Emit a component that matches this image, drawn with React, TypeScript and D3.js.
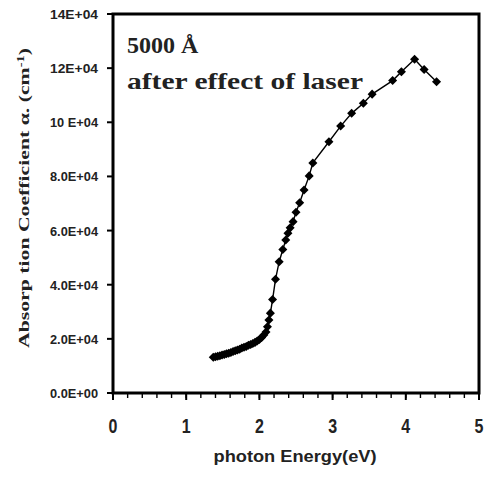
import React from "react";
import * as d3 from "d3";

const energy = [
  1.37, 1.40, 1.43, 1.46, 1.49, 1.52, 1.55, 1.58, 1.61, 1.64, 1.67, 1.70, 1.73, 1.76,
  1.79, 1.82, 1.85, 1.88, 1.91, 1.94, 1.97, 2.00, 2.03, 2.06, 2.09, 2.11, 2.13, 2.15,
  2.18, 2.22, 2.27, 2.32, 2.36, 2.39, 2.42, 2.46, 2.50, 2.55, 2.61, 2.68, 2.73, 2.95,
  3.11, 3.26, 3.42, 3.54, 3.82, 3.94, 4.12, 4.25, 4.42,
];
const alpha = [
  13200, 13400, 13600, 13800, 14000, 14200, 14500, 14700, 15000, 15300, 15600, 15900, 16200, 16600,
  16900, 17200, 17600, 17900, 18300, 18700, 19200, 19800, 20500, 21400, 22500, 24500, 27000, 29500,
  34500, 42000, 48500, 53000, 56500, 59000, 61000, 63300, 66800, 70300, 75000, 80200, 85000, 92800,
  98600, 103300, 107000, 110400, 115400, 118700, 123300, 119500, 115000,
];
const xTicks = [0, 1, 2, 3, 4, 5];
const yTicks = [0, 20000, 40000, 60000, 80000, 100000, 120000, 140000];
const yTickLabels = ["0.0E+00", "2.0E+04", "4.0E+04", "6.0E+04", "8.0E+04", "10 E+04", "12E+04", "14E+04"];
const xMinorTicks = d3.range(0, 5.0001, 0.2);

export default function App() {
  const W = 486, H = 481;
  const x = d3.scaleLinear().domain([0, 5]).range([113, 479]);
  const y = d3.scaleLinear().domain([0, 140000]).range([393, 14]);
  const pts = energy.map((e, i) => [e, alpha[i]] as [number, number]);
  const line = d3.line<[number, number]>().x(d => x(d[0])).y(d => y(d[1]));
  const sym = d3.symbol().type(d3.symbolDiamond2).size(52)();
  const sans = "'Liberation Sans', Arial, sans-serif";
  const serif = "'Liberation Serif', 'Times New Roman', serif";
  return (
    <svg width={W} height={H} style={{ position: "absolute", left: 0, top: 0, background: "#fff" }}>
      <rect x={0} y={0} width={W} height={H} fill="#fff" />
      {xMinorTicks.map((t, i) => (
        <line key={"mx" + i} x1={x(t)} x2={x(t)} y1={y(0)} y2={y(0) + 5} stroke="#000" strokeWidth={1.4} />
      ))}
      {xTicks.map(t => (
        <line key={"Mx" + t} x1={x(t)} x2={x(t)} y1={y(0)} y2={y(0) + 7} stroke="#000" strokeWidth={2} />
      ))}
      {yTicks.map(t => (
        <line key={"My" + t} x1={x(0) - 6} x2={x(0)} y1={y(t)} y2={y(t)} stroke="#000" strokeWidth={2} />
      ))}
      <rect x={x(0)} y={y(140000)} width={x(5) - x(0)} height={y(0) - y(140000)} fill="none" stroke="#000" strokeWidth={3} />
      {xTicks.map(t => (
        <text key={"xl" + t} x={x(t)} y={433} textAnchor="middle" fontFamily={sans} fontWeight="bold" fontSize={20}
          fill="#222" transform={`translate(${x(t)},0) scale(0.8,1) translate(${-x(t)},0)`}>{t}</text>
      ))}
      {yTicks.map((t, i) => (
        <text key={"yl" + t} x={98} y={y(t) + 5} textAnchor="end" fontFamily={sans} fontWeight="bold" fontSize={13.5}
          fill="#222" textLength={48} lengthAdjust="spacingAndGlyphs">{yTickLabels[i]}</text>
      ))}
      <text x={295} y={462} textAnchor="middle" fontFamily={sans} fontWeight="bold" fontSize={17} fill="#222"
        textLength={163} lengthAdjust="spacingAndGlyphs">photon Energy(eV)</text>
      <text transform={`translate(29,198) rotate(-90)`} textAnchor="middle" fontFamily={serif} fontWeight="bold"
        fontSize={15} fill="#222" textLength={300} lengthAdjust="spacingAndGlyphs">
        Absorp tion Coefficient α.  (cm<tspan dy={-5} fontSize={10}>-1</tspan><tspan dy={5}>)</tspan>
      </text>
      <text x={127} y={53} fontFamily={serif} fontWeight="bold" fontSize={24} fill="#222">5000 Å</text>
      <text x={127} y={89} fontFamily={serif} fontWeight="bold" fontSize={24} fill="#222"
        textLength={236} lengthAdjust="spacingAndGlyphs">after effect of laser</text>
      <path d={line(pts) || ""} fill="none" stroke="#000" strokeWidth={1.4} />
      {pts.map((p, i) => (
        <path key={"m" + i} d={sym || ""} transform={`translate(${x(p[0])},${y(p[1])})`} fill="#000" />
      ))}
    </svg>
  );
}
